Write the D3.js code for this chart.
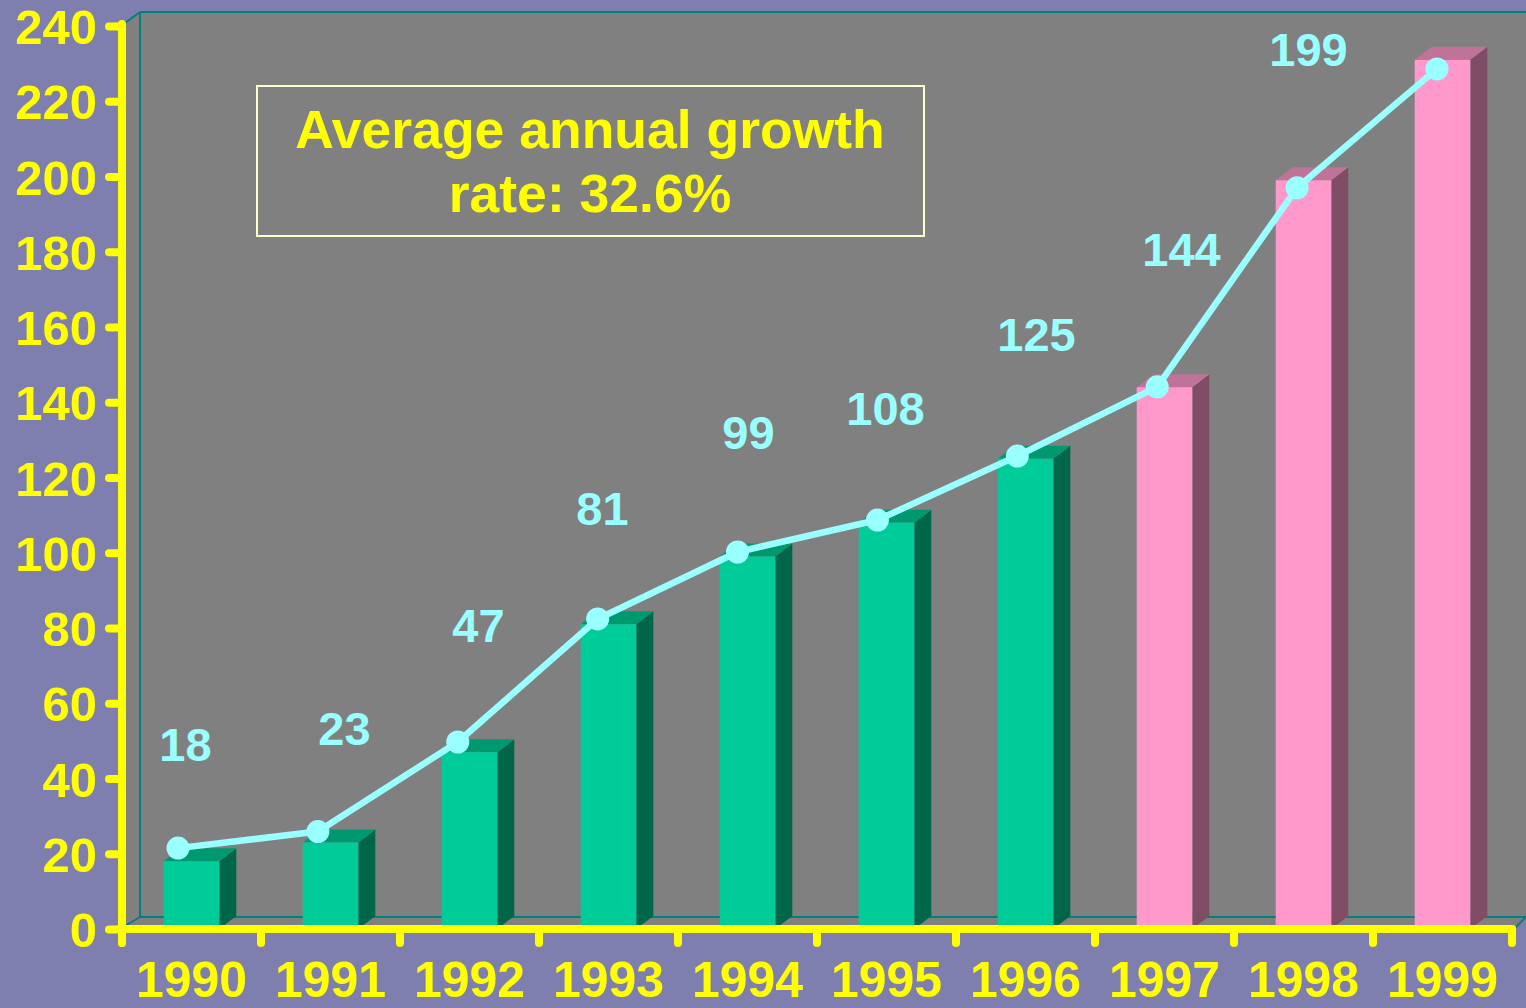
<!DOCTYPE html>
<html>
<head>
<meta charset="utf-8">
<script src="https://cdn.jsdelivr.net/npm/d3@7/dist/d3.min.js"></script>
<style>
  html, body { margin: 0; padding: 0; background: #7f7faf; }
  svg { display: block; }
  text { font-family: "Liberation Sans", Arial, sans-serif; font-weight: bold; }
</style>
</head>
<body>
<svg id="chart" width="1526" height="1008"></svg>
<script>
// ---------- data ----------
const years = ["1990","1991","1992","1993","1994","1995","1996","1997","1998","1999"];
const barValues = [18, 23, 47, 81, 99, 108, 125, 144, 199, 231];
const lineValues = [21.5, 25.9, 49.7, 82.4, 100.2, 108.7, 125.7, 144.1, 197.0, 228.6];
const labelTexts = ["18", "23", "47", "81", "99", "108", "125", "144", "199", ""];
const barGroups = ["green","green","green","green","green","green","green","pink","pink","pink"];
const yTicks = [0, 20, 40, 60, 80, 100, 120, 140, 160, 180, 200, 220, 240];
const titleLines = ["Average annual growth", "rate: 32.6%"];

// ---------- styling / layout ----------
const W = 1526, H = 1008;
const x0 = 122, x1 = 1512, yBase = 929, yTop = 26;
const depthX = 17, depthY = 13;      // bar depth
const wallDX = 18, wallDY = 12;      // wall depth
const palette = {
  green: { front: "#00cc99", top: "#00996f", side: "#006649" },
  pink:  { front: "#ff99cc", top: "#bf7399", side: "#804d66" }
};
const labelDX = [-6, 14, 9, -6, 1, -1, 11, 17, 5, 0];
const labelDY = [-100, -97, -110, -99, -108, -98, -108, -121, -114, 0];
const yellow = "#ffff00", cyan = "#99ffff", teal = "#008080", wall = "#808080";

const svg = d3.select("#chart");
svg.append("rect").attr("width", W).attr("height", H).attr("fill", "#7f7faf");

const x = d3.scaleBand().domain(years).range([x0, x1]).paddingInner(0).paddingOuter(0);
const y = d3.scaleLinear().domain([0, 240]).range([yBase, yTop]);
const bw = x.bandwidth();
const barW = bw * 0.4;
const lineX = d3.scalePoint().domain(years).range([x0 + 56, x1 - 75]);

// ---------- walls ----------
const backL = x0 + wallDX, backB = yBase - wallDY, backT = 12;
svg.append("rect").attr("x", backL).attr("y", backT).attr("width", W - backL).attr("height", backB - backT).attr("fill", wall);
svg.append("polygon").attr("points", [[x0, yTop - 1], [backL, backT], [backL, backB], [x0, yBase]].join(" ")).attr("fill", wall);
svg.append("polygon").attr("points", [[x0, yBase], [backL, backB], [W, backB], [x1 + 2, yBase]].join(" ")).attr("fill", wall);
const edges = [
  [[backL, backT], [W, backT]],
  [[backL, backT], [backL, backB]],
  [[backL, backB], [W, backB]],
  [[x0 + 3, yTop - 3], [backL, backT]],
  [[x0 + 3, yBase - 3], [backL, backB]],
  [[x1 + 2, yBase], [W, backB]]
];
svg.append("g").selectAll("line").data(edges).join("line")
  .attr("x1", d => d[0][0]).attr("y1", d => d[0][1])
  .attr("x2", d => d[1][0]).attr("y2", d => d[1][1])
  .attr("stroke", teal).attr("stroke-width", 2);

// ---------- bars ----------
const bars = svg.append("g").selectAll("g").data(years.map((yr, i) => ({ yr, v: barValues[i], g: barGroups[i] })))
  .join("g");
bars.each(function (d) {
  const g = d3.select(this);
  const bx = x(d.yr) + (bw - barW) / 2;
  const by = y(d.v);
  const c = palette[d.g];
  g.append("polygon").attr("fill", c.side)
    .attr("points", [[bx + barW, by], [bx + barW + depthX, by - depthY], [bx + barW + depthX, yBase - depthY], [bx + barW, yBase]].join(" "));
  g.append("polygon").attr("fill", c.top)
    .attr("points", [[bx, by], [bx + depthX, by - depthY], [bx + barW + depthX, by - depthY], [bx + barW, by]].join(" "));
  g.append("rect").attr("fill", c.front).attr("x", bx).attr("y", by).attr("width", barW).attr("height", yBase - by);
});

// ---------- axes ----------
const axisG = svg.append("g");
// y axis
const yAxis = d3.axisLeft(y).tickValues(yTicks).tickSize(13).tickSizeOuter(0).tickPadding(12);
const gy = axisG.append("g").attr("transform", `translate(${x0},0)`).call(yAxis);
gy.select(".domain").remove();
gy.selectAll(".tick line").attr("stroke", yellow).attr("stroke-width", 8).attr("stroke-linecap", "round");
gy.selectAll(".tick text").attr("fill", yellow).attr("font-size", 49).attr("dy", "0.36em")
  .style("font-family", '"Liberation Sans", Arial, sans-serif').style("font-weight", "bold");
// x axis labels
const xAxis = d3.axisBottom(x).tickSize(0).tickSizeOuter(0);
const gx = axisG.append("g").attr("transform", `translate(0,${yBase})`).call(xAxis);
gx.select(".domain").remove();
gx.selectAll(".tick text").attr("fill", yellow).attr("font-size", 50).attr("y", 68).attr("dy", 0)
  .style("font-family", '"Liberation Sans", Arial, sans-serif').style("font-weight", "bold");
// x ticks at band boundaries
const boundaries = years.map(yr => x(yr)).concat([x1]);
axisG.append("g").selectAll("line").data(boundaries).join("line")
  .attr("x1", d => d).attr("x2", d => d).attr("y1", yBase).attr("y2", yBase + 14)
  .attr("stroke", yellow).attr("stroke-width", 8).attr("stroke-linecap", "round");
// axis lines
axisG.append("line").attr("x1", x0).attr("x2", x0).attr("y1", yTop - 2).attr("y2", yBase + 14)
  .attr("stroke", yellow).attr("stroke-width", 8).attr("stroke-linecap", "round");
axisG.append("line").attr("x1", x0 - 2).attr("x2", x1).attr("y1", yBase).attr("y2", yBase)
  .attr("stroke", yellow).attr("stroke-width", 8).attr("stroke-linecap", "round");

// ---------- line ----------
const pts = years.map((yr, i) => [lineX(yr), y(lineValues[i])]);
svg.append("path").attr("d", d3.line()(pts)).attr("fill", "none").attr("stroke", cyan)
  .attr("stroke-width", 6.5).attr("stroke-linejoin", "round");
svg.append("g").selectAll("circle").data(pts).join("circle")
  .attr("cx", d => d[0]).attr("cy", d => d[1]).attr("r", 11.5).attr("fill", cyan);

// ---------- value labels ----------
svg.append("g").selectAll("text").data(years.map((yr, i) => ({ yr, i })).filter(d => labelTexts[d.i] !== ""))
  .join("text")
  .attr("x", d => x(d.yr) + bw / 2 + labelDX[d.i])
  .attr("y", d => y(barValues[d.i]) + labelDY[d.i])
  .attr("text-anchor", "middle").attr("font-size", 47).attr("fill", cyan)
  .text(d => labelTexts[d.i]);

// ---------- title box ----------
svg.append("rect").attr("x", 257).attr("y", 86).attr("width", 667).attr("height", 150)
  .attr("fill", "none").attr("stroke", "#ffffcc").attr("stroke-width", 2);
svg.append("g").selectAll("text").data(titleLines).join("text")
  .attr("x", 590).attr("y", (d, i) => 148 + i * 64)
  .attr("text-anchor", "middle").attr("font-size", 53.5).attr("fill", yellow)
  .text(d => d);
</script>
</body>
</html>
